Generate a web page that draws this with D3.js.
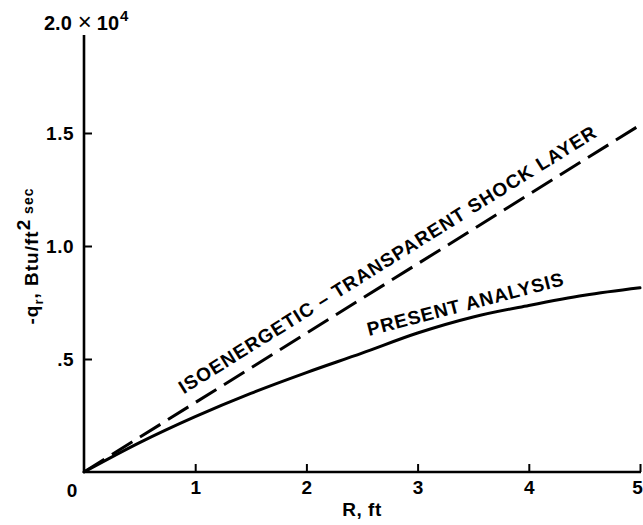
<!DOCTYPE html>
<html>
<head>
<meta charset="utf-8">
<script src="https://cdn.jsdelivr.net/npm/d3@7"></script>
<style>
  html, body { margin: 0; padding: 0; background: #fff; }
  svg { display: block; }
  text { font-family: "Liberation Sans", Arial, Helvetica, sans-serif; fill: #000; }
</style>
</head>
<body>
<svg id="chart" width="643" height="525"></svg>
<script>
// Radiative heat flux to the body versus nose radius
const radiusFt = [0, 0.5, 1, 1.5, 2, 2.5, 3, 3.5, 4, 4.5, 5];
const presentQ = [0, 1300, 2450, 3480, 4400, 5260, 6150, 6860, 7370, 7820, 8150];

// Isoenergetic, transparent shock layer estimate (straight line)
const isoR = [0, 5];
const isoQ = [0, 15350];

const xTicks = [1, 2, 3, 4, 5];
const yTicks = [5000, 10000, 15000];
const yTickLabels = [".5", "1.0", "1.5"];

const svg = d3.select("#chart");
const x = d3.scaleLinear().domain([0, 5]).range([84, 640]);
const y = d3.scaleLinear().domain([0, 20000]).range([472, 20]);

// Axes
const xAxis = d3.axisBottom(x)
  .tickValues(xTicks)
  .tickFormat(d3.format("d"))
  .tickSizeInner(-8).tickSizeOuter(0).tickPadding(9);
const gx = svg.append("g").attr("transform", `translate(0,${y(0)})`).call(xAxis);
gx.select(".domain").remove();
gx.selectAll(".tick line").attr("stroke", "#000").attr("stroke-width", 2);
gx.selectAll(".tick text").attr("font-size", 19).attr("font-weight", "bold");
gx.selectAll(".tick text").filter(d => d === 5).attr("dx", -3);

const yAxis = d3.axisLeft(y)
  .tickValues(yTicks)
  .tickFormat((d, i) => yTickLabels[i])
  .tickSizeInner(-8).tickSizeOuter(0).tickPadding(10);
const gy = svg.append("g").attr("transform", `translate(${x(0)},0)`).call(yAxis);
gy.select(".domain").remove();
gy.selectAll(".tick line").attr("stroke", "#000").attr("stroke-width", 2);
gy.selectAll(".tick text").attr("font-size", 19).attr("font-weight", "bold")
  .attr("letter-spacing", 0.5);

// Axis lines
svg.append("line")
  .attr("x1", x(0)).attr("x2", x(5) + 1)
  .attr("y1", y(0)).attr("y2", y(0))
  .attr("stroke", "#000").attr("stroke-width", 2.6);
svg.append("line")
  .attr("x1", x(0)).attr("x2", x(0))
  .attr("y1", y(0) + 1).attr("y2", 35)
  .attr("stroke", "#000").attr("stroke-width", 2.6);

// Origin label
svg.append("text")
  .attr("x", x(0) - 12).attr("y", y(0) + 25)
  .attr("text-anchor", "middle")
  .attr("font-size", 19).attr("font-weight", "bold")
  .text("0");

// Scale multiplier at the top of the y axis
const mult = svg.append("text").attr("x", 44).attr("y", 30)
  .attr("font-size", 20).attr("font-weight", "bold");
mult.append("tspan").text("2.0");
mult.append("tspan").attr("dx", 6).attr("font-size", 24).attr("font-weight", "normal").text("\u00d7");
mult.append("tspan").attr("dx", 5).text("10");
mult.append("tspan").attr("dx", 1).attr("font-size", 15).attr("dy", -9).text("4");

// Axis titles
svg.append("text")
  .attr("x", x(2.5)).attr("y", 516)
  .attr("text-anchor", "middle")
  .attr("font-size", 19).attr("font-weight", "bold")
  .attr("letter-spacing", 0.5)
  .text("R, ft");

const yt = svg.append("text")
  .attr("transform", "translate(38,256) rotate(-90)")
  .attr("text-anchor", "middle")
  .attr("font-size", 19).attr("font-weight", "bold")
  .attr("letter-spacing", 1);
yt.append("tspan").text("-q");
yt.append("tspan").attr("font-size", 13).attr("dy", 5).text("r");
yt.append("tspan").attr("dy", -5).text(", Btu/ft");
yt.append("tspan").attr("font-size", 19).attr("dy", -8).text("2");
yt.append("tspan").attr("font-size", 14).attr("dy", 3).text(" sec");

// Curves
const line = d3.line().x(d => x(d[0])).y(d => y(d[1]));

svg.append("path")
  .datum(isoR.map((r, i) => [r, isoQ[i]]))
  .attr("d", line)
  .attr("fill", "none").attr("stroke", "#000")
  .attr("stroke-width", 3).attr("stroke-dasharray", "24,9");

svg.append("path")
  .datum(radiusFt.map((r, i) => [r, presentQ[i]]))
  .attr("d", line.curve(d3.curveMonotoneX))
  .attr("fill", "none").attr("stroke", "#000")
  .attr("stroke-width", 3).attr("stroke-linecap", "round");

// Curve labels, laid along each curve
const isoAt = d3.scaleLinear().domain(isoR).range(isoQ);
const presentAt = d3.scaleLinear().domain(radiusFt).range(presentQ);

function angleBetween(f, r0, r1) {
  return Math.atan2(y(f(r1)) - y(f(r0)), x(r1) - x(r0)) * 180 / Math.PI;
}

const isoMid = 2.82;
svg.append("text")
  .attr("transform", `translate(${x(isoMid)},${y(isoAt(isoMid))}) rotate(${angleBetween(isoAt, 0, 5)})`)
  .attr("y", -13)
  .attr("text-anchor", "middle")
  .attr("font-size", 19).attr("font-weight", "bold")
  .attr("textLength", 488).attr("lengthAdjust", "spacing")
  .text("ISOENERGETIC \u2013 TRANSPARENT SHOCK LAYER");

const presMid = 3.46;
svg.append("text")
  .attr("transform", `translate(${x(presMid)},${y(presentAt(presMid))}) rotate(${angleBetween(presentAt, 2.5, 4.5)})`)
  .attr("y", -8)
  .attr("text-anchor", "middle")
  .attr("font-size", 19).attr("font-weight", "bold")
  .attr("textLength", 202).attr("lengthAdjust", "spacing")
  .text("PRESENT ANALYSIS");
</script>
</body>
</html>
